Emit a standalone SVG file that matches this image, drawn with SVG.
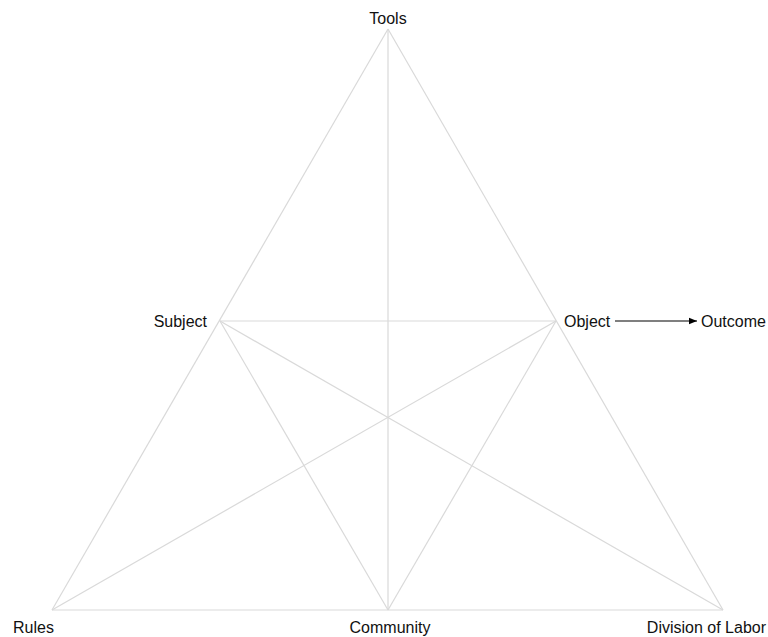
<svg xmlns="http://www.w3.org/2000/svg" width="768" height="637" viewBox="0 0 768 637">
  <style>
    .edge { stroke: #d9d9d9; stroke-width: 1.2; fill: none; }
    .flow { stroke: #000; stroke-width: 1.2; fill: none; }
    .label { font-family: "Liberation Sans", Arial, sans-serif; font-size: 16px; fill: #111; }
  </style>
  <defs>
    <marker id="arrowhead" viewBox="0 0 10 10" refX="10" refY="5" markerWidth="8" markerHeight="8" orient="auto" markerUnits="userSpaceOnUse">
      <path d="M0,1 L10,5 L0,9 Z" fill="#000"/>
    </marker>
  </defs>
  <rect width="768" height="637" fill="#fff"/>

  <g id="connectors">
    <!-- outer triangle -->
    <line class="edge" x1="388" y1="29" x2="52" y2="610"/>
    <line class="edge" x1="388" y1="29" x2="723" y2="610"/>
    <line class="edge" x1="52" y1="610" x2="723" y2="610"/>
    <!-- inner connections -->
    <line class="edge" x1="388" y1="29" x2="388" y2="610"/>
    <line class="edge" x1="220" y1="321" x2="556" y2="321"/>
    <line class="edge" x1="220" y1="321" x2="388" y2="610"/>
    <line class="edge" x1="220" y1="321" x2="723" y2="610"/>
    <line class="edge" x1="556" y1="321" x2="52" y2="610"/>
    <line class="edge" x1="556" y1="321" x2="388" y2="610"/>
    <!-- object to outcome -->
    <line class="flow" x1="615" y1="321" x2="697" y2="321" marker-end="url(#arrowhead)"/>
  </g>

  <g id="tools"><text class="label" x="388" y="24" text-anchor="middle">Tools</text></g>
  <g id="subject"><text class="label" x="207" y="327" text-anchor="end">Subject</text></g>
  <g id="object"><text class="label" x="564" y="327">Object</text></g>
  <g id="outcome"><text class="label" x="701" y="327">Outcome</text></g>
  <g id="rules"><text class="label" x="13" y="633">Rules</text></g>
  <g id="community"><text class="label" x="390" y="633" text-anchor="middle">Community</text></g>
  <g id="division"><text class="label" x="766" y="633" text-anchor="end">Division of Labor</text></g>
</svg>
